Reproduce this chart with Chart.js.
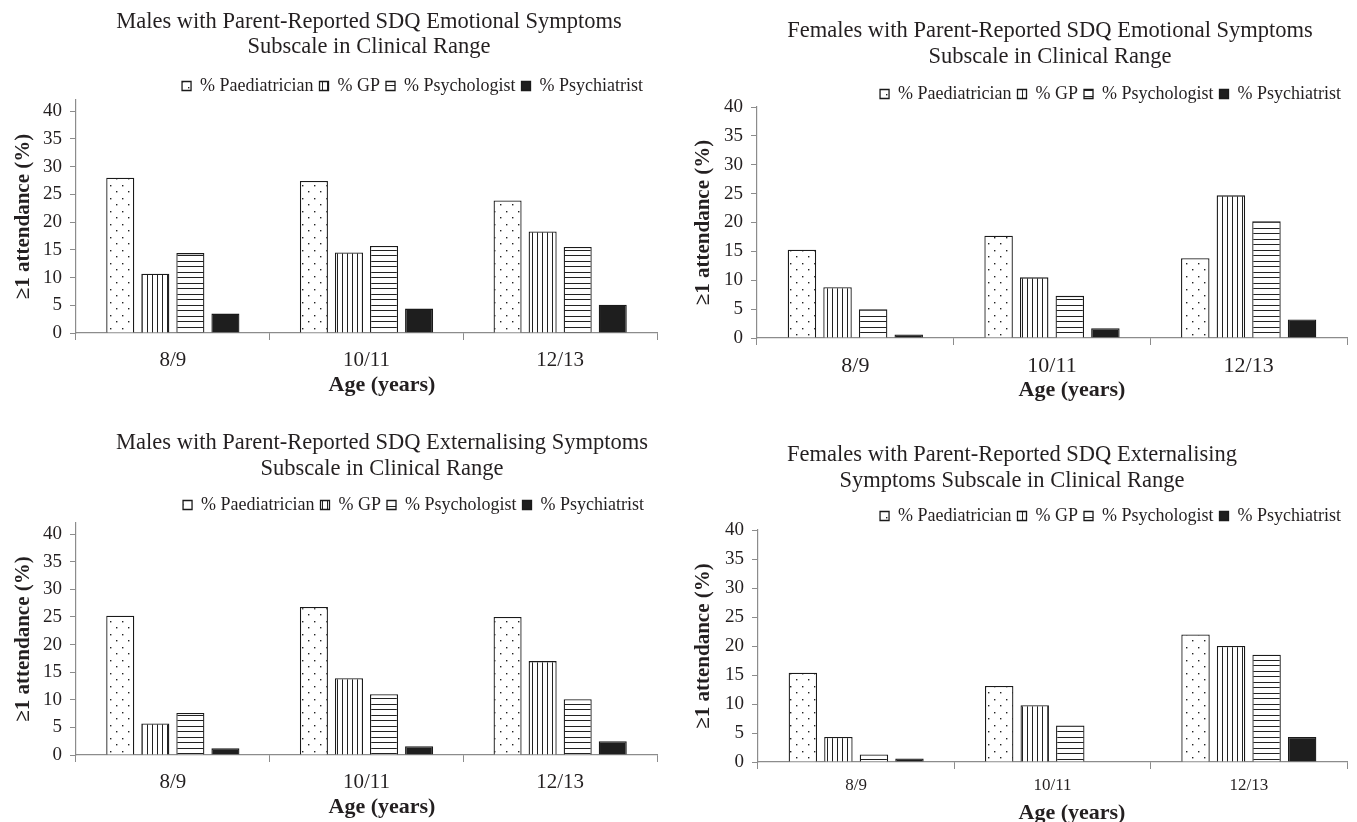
<!DOCTYPE html>
<html>
<head>
<meta charset="utf-8">
<script src="https://cdn.jsdelivr.net/npm/chart.js@4.4.1/dist/chart.umd.min.js"></script>
<style>
  html, body { margin: 0; padding: 0; background: #fff; }
  .panel { position: absolute; }
</style>
</head>
<body>
<div class="panel" style="left:0;top:0;width:680px;height:410px"><canvas id="maleEmo"></canvas></div>
<div class="panel" style="left:680px;top:0;width:677px;height:410px"><canvas id="femaleEmo"></canvas></div>
<div class="panel" style="left:0;top:410px;width:680px;height:412px"><canvas id="maleExt"></canvas></div>
<div class="panel" style="left:680px;top:410px;width:677px;height:412px"><canvas id="femaleExt"></canvas></div>
<script>
// categories / legend / axis text
const ageGroups = ['8/9', '10/11', '12/13'];
const seriesNames = ['% Paediatrician', '% GP', '% Psychologist', '% Psychiatrist'];
const yTicks = [0, 5, 10, 15, 20, 25, 30, 35, 40];
const yTitle = '\u22651 attendance (%)';
const xTitle = 'Age (years)';

// Males, emotional symptoms
const maleEmoPaed = [28.0, 27.4, 23.9];
const maleEmoGP = [10.7, 14.5, 18.3];
const maleEmoPsychologist = [14.4, 15.7, 15.5];
const maleEmoPsychiatrist = [3.5, 4.4, 5.1];

// Females, emotional symptoms
const femaleEmoPaed = [15.3, 17.7, 13.8];
const femaleEmoGP = [8.8, 10.5, 24.7];
const femaleEmoPsychologist = [5.0, 7.3, 20.2];
const femaleEmoPsychiatrist = [0.6, 1.7, 3.2];

// Males, externalising symptoms
const maleExtPaed = [25.2, 26.8, 25.0];
const maleExtGP = [5.7, 13.9, 17.0];
const maleExtPsychologist = [7.6, 11.0, 10.1];
const maleExtPsychiatrist = [1.2, 1.6, 2.5];

// Females, externalising symptoms
const femaleExtPaed = [15.4, 13.1, 22.0];
const femaleExtGP = [4.3, 9.8, 20.0];
const femaleExtPsychologist = [1.3, 6.3, 18.5];
const femaleExtPsychiatrist = [0.6, 0, 4.3];

const FONT = "'Liberation Serif', 'Times New Roman', serif";
const INK = '#231f20';
const AXIS = '#8c8c8c';

// hatch fills like the old Excel patterns
function makePattern(kind) {
  const tile = document.createElement('canvas');
  const c = tile.getContext('2d');
  if (kind === 'dots') {
    tile.width = 12; tile.height = 13;
    c.fillStyle = '#fff';
    c.fillRect(0, 0, 12, 13);
    c.fillStyle = '#222';
    c.fillRect(2, 3, 1.4, 1.4);
    c.fillRect(8, 9, 1.4, 1.4);
  } else if (kind === 'vertical') {
    tile.width = 5; tile.height = 10;
    c.fillStyle = '#fff';
    c.fillRect(0, 0, 5, 10);
    c.fillStyle = '#222';
    c.fillRect(2, 0, 1, 10);
  } else {
    tile.width = 10; tile.height = 11;
    c.fillStyle = '#fff';
    c.fillRect(0, 0, 10, 11);
    c.fillStyle = '#222';
    c.fillRect(0, 2, 10, 1);
    c.fillRect(0, 8, 10, 1);
  }
  return c.createPattern(tile, 'repeat');
}

const fills = [makePattern('dots'), makePattern('vertical'), makePattern('horizontal'), '#1e1e1e'];

function makeChart(id, series, titleLines, p) {
  const ctx = document.getElementById(id).getContext('2d');
  return new Chart(ctx, {
    type: 'bar',
    data: {
      labels: ageGroups,
      datasets: series.map((values, i) => ({
        label: seriesNames[i],
        data: values,
        backgroundColor: fills[i],
        borderColor: '#1a1a1a',
        borderWidth: 1.3,
        categoryPercentage: 0.724,
        barPercentage: 0.8,
      })),
    },
    options: {
      responsive: true,
      maintainAspectRatio: false,
      animation: false,
      events: [],
      layout: {
        padding: { top: p.padTop, right: p.padRight, left: 0, bottom: 0 },
      },
      plugins: {
        tooltip: { enabled: false },
        title: { display: false },
        legend: {
          position: 'top',
          align: 'end',
          fullSize: false,
          labels: {
            boxWidth: 9,
            boxHeight: 9,
            padding: 6,
            color: INK,
            font: { family: FONT, size: 18 },
          },
        },
      },
      scales: {
        x: {
          grid: {
            display: true,
            drawOnChartArea: false,
            drawTicks: true,
            tickLength: 7,
            color: AXIS,
            tickColor: AXIS,
          },
          border: { color: AXIS, width: 1.2 },
          ticks: {
            color: INK,
            padding: p.catPad,
            font: { family: FONT, size: p.catFont, lineHeight: 1.2 },
          },
          afterFit: (s) => { s.height = p.xHeight; },
        },
        y: {
          min: 0,
          max: p.yMax,
          grid: {
            display: true,
            drawOnChartArea: false,
            drawTicks: true,
            tickLength: 6,
            color: AXIS,
            tickColor: AXIS,
          },
          border: { color: AXIS, width: 1.2 },
          ticks: {
            color: INK,
            padding: 8,
            font: { family: FONT, size: 19, lineHeight: 1.2 },
          },
          afterBuildTicks: (s) => {
            s.ticks = yTicks.map(v => ({ value: v }));
          },
          afterFit: (s) => { s.width = p.axisLeft; },
          title: {
            display: true,
            text: yTitle,
            color: INK,
            padding: { top: 11, bottom: 0 },
            font: { family: FONT, size: 21, weight: 'bold', lineHeight: 1.2 },
          },
        },
      },
    },
    plugins: [{
      id: 'panelText',
      afterLayout(chart) {
        // nudge the legend row to where the original sits
        const lg = chart.legend;
        lg.top += p.legendDy; lg.bottom += p.legendDy;
        lg.left += p.legendDx; lg.right += p.legendDx;
      },
      afterDraw(chart) {
        const c = chart.ctx;
        c.save();
        c.fillStyle = INK;
        c.textAlign = 'center';
        c.textBaseline = 'middle';
        c.font = '22.5px ' + FONT;
        titleLines.forEach((t, i) => c.fillText(t, p.titleX, p.titleY[i]));
        c.font = 'bold 22px ' + FONT;
        c.fillText(xTitle, p.ageX, p.ageY);
        c.restore();
      },
    }],
  });
}

makeChart('maleEmo',
  [maleEmoPaed, maleEmoGP, maleEmoPsychologist, maleEmoPsychiatrist],
  ['Males with Parent-Reported SDQ Emotional Symptoms', 'Subscale in Clinical Range'],
  { axisLeft: 76, padRight: 23, padTop: 66, xHeight: 77, yMax: 42, catFont: 21, catPad: 8,
    legendDy: 5, legendDx: -8,
    titleX: 369, titleY: [22, 47], ageX: 382, ageY: 385 });

makeChart('femaleEmo',
  [femaleEmoPaed, femaleEmoGP, femaleEmoPsychologist, femaleEmoPsychiatrist],
  ['Females with Parent-Reported SDQ Emotional Symptoms', 'Subscale in Clinical Range'],
  { axisLeft: 77, padRight: 10, padTop: 73, xHeight: 72, yMax: 40, catFont: 22, catPad: 8,
    legendDy: 6, legendDx: 0,
    titleX: 370, titleY: [31, 57], ageX: 392, ageY: 390 });

makeChart('maleExt',
  [maleExtPaed, maleExtGP, maleExtPsychologist, maleExtPsychiatrist],
  ['Males with Parent-Reported SDQ Externalising Symptoms', 'Subscale in Clinical Range'],
  { axisLeft: 76, padRight: 23, padTop: 79, xHeight: 67, yMax: 42, catFont: 21, catPad: 8,
    legendDy: 1, legendDx: -7,
    titleX: 382, titleY: [33, 59], ageX: 382, ageY: 397 });

makeChart('femaleExt',
  [femaleExtPaed, femaleExtGP, femaleExtPsychologist, femaleExtPsychiatrist],
  ['Females with Parent-Reported SDQ Externalising', 'Symptoms Subscale in Clinical Range'],
  { axisLeft: 78, padRight: 10, padTop: 86, xHeight: 60, yMax: 40, catFont: 17, catPad: 6,
    legendDy: 5, legendDx: 0,
    titleX: 332, titleY: [45, 71], ageX: 392, ageY: 403 });
</script>
</body>
</html>
